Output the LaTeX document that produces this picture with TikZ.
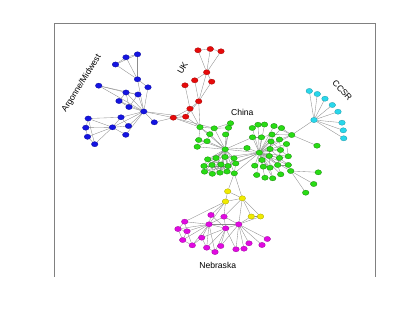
\documentclass[tikz,border=0pt]{standalone}
\usepackage{fontspec}
\setmainfont{Liberation Sans}
\usetikzlibrary{shapes.geometric,backgrounds}
\definecolor{vblue}{RGB}{20,20,225}
\definecolor{vred}{RGB}{230,10,10}
\definecolor{vgreen}{RGB}{40,220,20}
\definecolor{vcyan}{RGB}{40,215,235}
\definecolor{vyellow}{RGB}{240,235,0}
\definecolor{vmag}{RGB}{225,10,225}
\tikzset{
  vtx/.style={ellipse,inner sep=0pt,minimum width=6.6pt,minimum height=5.2pt,line width=0.3pt},
  bv/.style={vtx,fill=vblue,draw=vblue!70!black},
  rv/.style={vtx,fill=vred,draw=vred!70!black},
  gv/.style={vtx,fill=vgreen,draw=vgreen!60!black},
  cv/.style={vtx,fill=vcyan,draw=vcyan!70!black},
  yv/.style={vtx,fill=vyellow,draw=vyellow!70!black},
  mv/.style={vtx,fill=vmag,draw=vmag!70!black},
  link/.style={draw=black!45,line width=0.35pt},
  lab/.style={font=\fontsize{8.6}{10}\selectfont,inner sep=0pt}
}
\begin{document}
\begin{tikzpicture}[x=1pt,y=-1pt]
\useasboundingbox (0,0) rectangle (415,312);
\draw[black!50,line width=0.8pt] (54.3,277) -- (54.3,23.3) -- (375.7,23.3) -- (375.7,277);
% Argonne/Midwest
\node[bv] (b1) at (137.5,54.3) {}; \node[bv] (b2) at (126,57.3) {}; \node[bv] (b3) at (115.5,64.5) {};
\node[bv] (b4) at (137.5,79.3) {}; \node[bv] (b5) at (148,87.3) {}; \node[bv] (b6) at (98.7,85.7) {};
\node[bv] (b7) at (126,92.5) {}; \node[bv] (b8) at (138,94.5) {}; \node[bv] (b9) at (119,101) {};
\node[bv] (b10) at (129,107) {}; \node[bv] (b11) at (143.8,111.5) {}; \node[bv] (b12) at (154.3,122.3) {};
\node[bv] (b13) at (121,117.3) {}; \node[bv] (b14) at (128.5,126) {}; \node[bv] (b15) at (112.5,127.3) {};
\node[bv] (b16) at (125.8,134.8) {}; \node[bv] (b17) at (88.2,118.5) {}; \node[bv] (b18) at (85.8,127.7) {};
\node[bv] (b19) at (87.5,136.8) {}; \node[bv] (b20) at (94.7,144.2) {};
% UK
\node[rv] (r1) at (198,50.3) {}; \node[rv] (r2) at (210.3,49) {}; \node[rv] (r3) at (221,51.3) {};
\node[rv] (r4) at (206.7,72.3) {}; \node[rv] (r5) at (194.7,80.3) {}; \node[rv] (r6) at (211.7,81.7) {};
\node[rv] (r7) at (185,85.3) {}; \node[rv] (r8) at (198.7,101.3) {}; \node[rv] (r9) at (190,108.7) {};
\node[rv] (r10) at (185.7,116.7) {}; \node[rv] (r11) at (173.3,117.7) {};
% CCSR
\node[cv] (ch) at (314,120) {};
\node[cv] (c1) at (309.3,91) {}; \node[cv] (c2) at (317.3,94) {}; \node[cv] (c3) at (325,98.7) {};
\node[cv] (c4) at (332.3,105) {}; \node[cv] (c5) at (338,111.7) {}; \node[cv] (c6) at (342,122.7) {};
\node[cv] (c7) at (343.3,130.3) {}; \node[cv] (c8) at (343.7,138.3) {};
% China
\node[gv] (g1) at (200,127.2) {}; \node[gv] (g2) at (214.2,128.3) {}; \node[gv] (g3) at (230.5,123.2) {};
\node[gv] (g4) at (228.5,127.8) {}; \node[gv] (g5) at (209.8,134.2) {}; \node[gv] (g6) at (225.6,134.5) {};
\node[gv] (g7) at (198.7,140) {}; \node[gv] (g8) at (207,141.2) {}; \node[gv] (g9) at (197.2,146.8) {};
\node[gv] (g10) at (225.2,149.3) {}; \node[gv] (g11) at (247,148) {};
\node[gv] (l1) at (207.7,159.3) {}; \node[gv] (l2) at (216,158) {}; \node[gv] (l3) at (225,157) {};
\node[gv] (l4) at (234,158.3) {}; \node[gv] (l5) at (235.7,163.5) {}; \node[gv] (l6) at (204,166) {};
\node[gv] (l7) at (212,165) {}; \node[gv] (l8) at (221,164.5) {}; \node[gv] (l9) at (228,166) {};
\node[gv] (l10) at (204.5,171.7) {}; \node[gv] (l11) at (212.3,173.8) {}; \node[gv] (l12) at (220,172.7) {};
\node[gv] (l13) at (227,171.5) {}; \node[gv] (h2) at (234.3,173.3) {};
\node[gv] (k1) at (252.3,128) {}; \node[gv] (k2) at (258,124.7) {}; \node[gv] (k3) at (264.5,124.5) {};
\node[gv] (k4) at (274,126) {}; \node[gv] (k5) at (281.5,128) {}; \node[gv] (k6) at (252.5,137.3) {};
\node[gv] (k7) at (261.5,137.3) {}; \node[gv] (k8) at (272,134.5) {}; \node[gv] (k9) at (279.5,139.5) {};
\node[gv] (kc) at (291.7,135) {}; \node[gv] (k10) at (271,141.5) {}; \node[gv] (k11) at (286.5,144) {};
\node[gv] (kh) at (259.3,152.7) {}; \node[gv] (k14) at (270,149) {}; \node[gv] (k15) at (280.5,150) {};
\node[gv] (k16) at (288.3,156.3) {}; \node[gv] (k17) at (269.3,156) {}; \node[gv] (k18) at (279.5,158) {};
\node[gv] (k20) at (262,160) {}; \node[gv] (k24) at (254.7,165.7) {}; \node[gv] (k25) at (263.3,166.7) {};
\node[gv] (k26) at (270,167.7) {}; \node[gv] (k27) at (277.7,165) {}; \node[gv] (k28) at (288.3,165) {};
\node[gv] (k29) at (256.7,175) {}; \node[gv] (k30) at (265,177.7) {}; \node[gv] (k31) at (272.7,178.3) {};
\node[gv] (k32) at (280.7,174.3) {}; \node[gv] (kd) at (290.7,171) {};
\node[gv] (ki1) at (317,145.7) {}; \node[gv] (ki2) at (318.3,172.3) {}; \node[gv] (ki3) at (313.7,184) {};
\node[gv] (ki4) at (305.7,192.7) {};
% Nebraska
\node[yv] (y1) at (227.7,191.3) {}; \node[yv] (y2) at (225.5,201.5) {}; \node[yv] (y3) at (242.3,198.3) {};
\node[yv] (y4) at (251.3,216.5) {}; \node[yv] (y5) at (260.5,216.5) {};
\node[mv] (m1) at (211,215) {}; \node[mv] (m2) at (224,216.7) {}; \node[mv] (m3) at (184.7,221.7) {};
\node[mv] (m4) at (209,224.3) {}; \node[mv] (m5) at (225.7,228.3) {}; \node[mv] (m6) at (238.7,224.3) {};
\node[mv] (m7) at (178,229) {}; \node[mv] (m8) at (187,231.3) {}; \node[mv] (m9) at (201.7,237.7) {};
\node[mv] (m10) at (182.7,240) {}; \node[mv] (m11) at (192.3,245.3) {}; \node[mv] (m12) at (206.7,247.7) {};
\node[mv] (m13) at (215,252) {}; \node[mv] (m14) at (220.7,246) {}; \node[mv] (m15) at (236,249.3) {};
\node[mv] (m16) at (244,248.7) {}; \node[mv] (m17) at (249,243.3) {}; \node[mv] (m18) at (262,245) {};
\node[mv] (m19) at (267.3,239) {};
% labels
\node[lab,rotate=58] (tArg) at (81.7,83.5) {Argonne/Midwest};
\node[lab,rotate=60] (tUK) at (182.7,68.3) {UK};
\node[lab] (tCn) at (242.3,112.7) {China};
\node[lab,rotate=-47] (tCC) at (342.3,90.5) {CCSR};
\node[lab] (tNe) at (217.7,265.7) {Nebraska};
\begin{scope}[on background layer]
\foreach \a/\b in {b1/b2,b2/b3,b1/b3,b1/b4,b2/b4,b3/b4,b4/b5,b4/b11,b5/b11,b6/b7,b6/b8,b6/b11,
  b7/b8,b7/b9,b7/b10,b8/b10,b8/b11,b7/b11,b9/b10,b9/b11,b10/b11,b11/b12,b11/b13,b11/b14,b11/b15,
  b11/b16,b13/b15,b14/b15,b15/b16,b13/b14,b15/b17,b15/b18,b15/b19,b15/b20,b17/b18,b18/b19,b19/b20,
  b17/b20,b17/b13,b11/r11,b12/r11,b11/r10}
  \draw[link] (\a) -- (\b);
\foreach \a/\b in {r1/r2,r2/r3,r1/r4,r2/r4,r3/r4,r4/r5,r4/r6,r4/r8,r5/r8,r6/r8,r7/r9,r8/r9,r8/r10,
  r9/r10,r9/r11,r10/r11,r8/g1,r9/g1,r10/g1,r11/g1,r11/g2}
  \draw[link] (\a) -- (\b);
\foreach \n in {c1,c2,c3,c4,c5,c6,c7,c8,kc}
  \draw[link] (ch) -- (\n);
\foreach \n in {g1,g2,g3,g4,g5,g6,g7,g8,g9,g11,l1,l2,l3,l4,l5,l6,l7,l8,l9,l10,l11,l12,l13,h2,kh,k6}
  \draw[link] (g10) -- (\n);
\foreach \a/\b in {g1/g2,g1/g7,g2/g5,g2/g4,g3/g4,g4/g6,g5/g8,g7/g8,g7/g9,g8/g9,g1/g5,g2/g3}
  \draw[link] (\a) -- (\b);
\foreach \a/\b in {l1/l2,l2/l3,l3/l4,l4/l5,l1/l6,l6/l7,l7/l8,l8/l9,l9/l5,l6/l10,l10/l11,l11/l12,
  l12/l13,l13/h2,l5/h2,l1/l7,l2/l8,l3/l9,l7/l11,l8/l12,l9/l13,l2/l7,l3/l8,l4/l9,l7/l12,l8/l13,
  l1/l8,l6/l11,l1/l12,l2/l13,l6/l9,l10/l8,l3/l12,l4/l13,l1/l9,l7/l13,l2/l12,l10/l9,l11/l9}
  \draw[link] (\a) -- (\b);
\foreach \n in {g11,h2,l4,l5,l9,l3,k1,k2,k3,k4,k5,k6,k7,k8,k9,kc,k10,k11,k14,k15,k16,k17,k18,
  k20,k24,k25,k26,k27,k28,k29,k30,k31,k32,kd}
  \draw[link] (kh) -- (\n);
\foreach \a/\b in {k10/k14,k14/k15,k15/k16,k14/k17,k17/k18,k18/k16,k15/k18,k10/k15,k17/k20,
  k17/k26,k18/k27,k26/k27,k25/k26,k14/k18,k15/k27,k10/k17,k9/k15,k11/k15,k11/k16,k17/k27,
  k20/k26,k18/k28,k27/k28,k26/k31,k27/k32,kc/k4,kc/k5,kc/k8,kc/k9,kc/ki1,kd/ki2,kd/ki3,kd/ki4,
  k1/k2,k2/k3,k6/k7,k7/k8}
  \draw[link] (\a) -- (\b);
\foreach \a/\b in {h2/y1,h2/y3,y1/y2,y1/y3,y2/y3,y3/y4,y3/y5,y4/y5,y2/m1,y2/m3,y2/m4,y2/m2,
  y3/m6,y3/m2,y4/m6,y5/m6}
  \draw[link] (\a) -- (\b);
\foreach \n in {m1,m2,m3,m5,m6,m7,m8,m9,m10,m11,m12,m13}
  \draw[link] (m4) -- (\n);
\foreach \n in {m1,m2,m6,m9,m12,m13,m14,m15}
  \draw[link] (m5) -- (\n);
\foreach \n in {m2,m14,m15,m16,m17,m18,m19}
  \draw[link] (m6) -- (\n);
\foreach \a/\b in {m3/m7,m3/m8,m7/m8,m7/m10,m8/m10,m8/m11,m10/m11,m9/m11,m9/m12,m12/m13}
  \draw[link] (\a) -- (\b);
\end{scope}
\end{tikzpicture}
\end{document}
